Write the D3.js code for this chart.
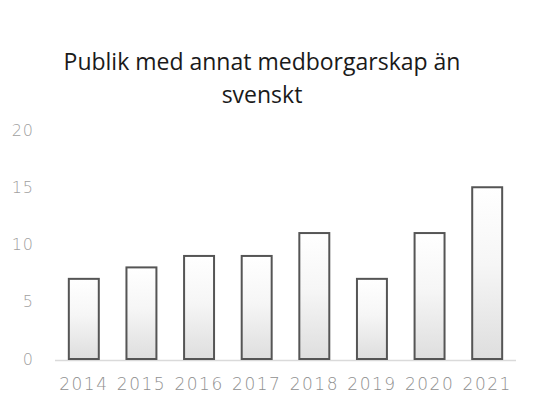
<!DOCTYPE html>
<meta charset="utf-8">
<style>
  body { margin: 0; background: #fff; }
  .title { font-family: "Open Sans", "Noto Sans", sans-serif; font-size: 23px; fill: #1a1a1a; }
  .tick text { font-family: "DejaVu Sans", sans-serif; font-weight: 200; }
</style>
<svg width="541" height="412"></svg>
<script src="https://d3js.org/d3.v7.min.js"></script>
<script>
var years = ["2014", "2015", "2016", "2017", "2018", "2019", "2020", "2021"];
var values = [7, 8, 9, 9, 11, 7, 11, 15];
var yTicks = [0, 5, 10, 15, 20];

var svg = d3.select("svg");

var defs = svg.append("defs");
var grad = defs.append("linearGradient")
    .attr("id", "barfill")
    .attr("x1", 0).attr("y1", 0).attr("x2", 0).attr("y2", 1);
grad.append("stop").attr("offset", "0%").attr("stop-color", "#ffffff");
grad.append("stop").attr("offset", "45%").attr("stop-color", "#f6f6f6");
grad.append("stop").attr("offset", "100%").attr("stop-color", "#dedede");

// title
svg.append("text").attr("class", "title")
    .attr("x", 262).attr("y", 70)
    .attr("text-anchor", "middle")
    .text("Publik med annat medborgarskap än");
svg.append("text").attr("class", "title")
    .attr("x", 262).attr("y", 103)
    .attr("text-anchor", "middle")
    .text("svenskt");

var x = d3.scaleBand()
    .domain(years)
    .range([55, 516])
    .paddingInner(0.48)
    .paddingOuter(0.24);

var y = d3.scaleLinear()
    .domain([0, 20])
    .range([359, 130]);

// baseline
svg.append("line")
    .attr("x1", 55).attr("x2", 516)
    .attr("y1", y(0) + 1.5).attr("y2", y(0) + 1.5)
    .attr("stroke", "#dadada")
    .attr("stroke-width", 1.5);

// bars
svg.append("g")
    .selectAll("rect")
    .data(values)
    .enter()
    .append("rect")
    .attr("x", function(d, i) { return x(years[i]); })
    .attr("y", function(d) { return y(d); })
    .attr("width", x.bandwidth())
    .attr("height", function(d) { return y(0) - y(d); })
    .attr("fill", "url(#barfill)")
    .attr("stroke", "#555")
    .attr("stroke-width", 2);

// y axis
var yAxis = svg.append("g")
    .attr("transform", "translate(34,0)")
    .call(d3.axisLeft(y).tickValues(yTicks).tickSize(0).tickPadding(0));
yAxis.select(".domain").remove();
yAxis.selectAll("text")
    .attr("fill", "#a0a0a0")
    .style("letter-spacing", "1px")
    .style("font-size", "16px");

// x axis
var xAxis = svg.append("g")
    .attr("transform", "translate(0," + (y(0) + 16) + ")")
    .call(d3.axisBottom(x).tickSize(0).tickPadding(0));
xAxis.select(".domain").remove();
xAxis.selectAll("text")
    .attr("fill", "#909090")
    .attr("dy", "0.9em")
    .style("letter-spacing", "1.5px")
    .style("font-size", "17px");
</script>
